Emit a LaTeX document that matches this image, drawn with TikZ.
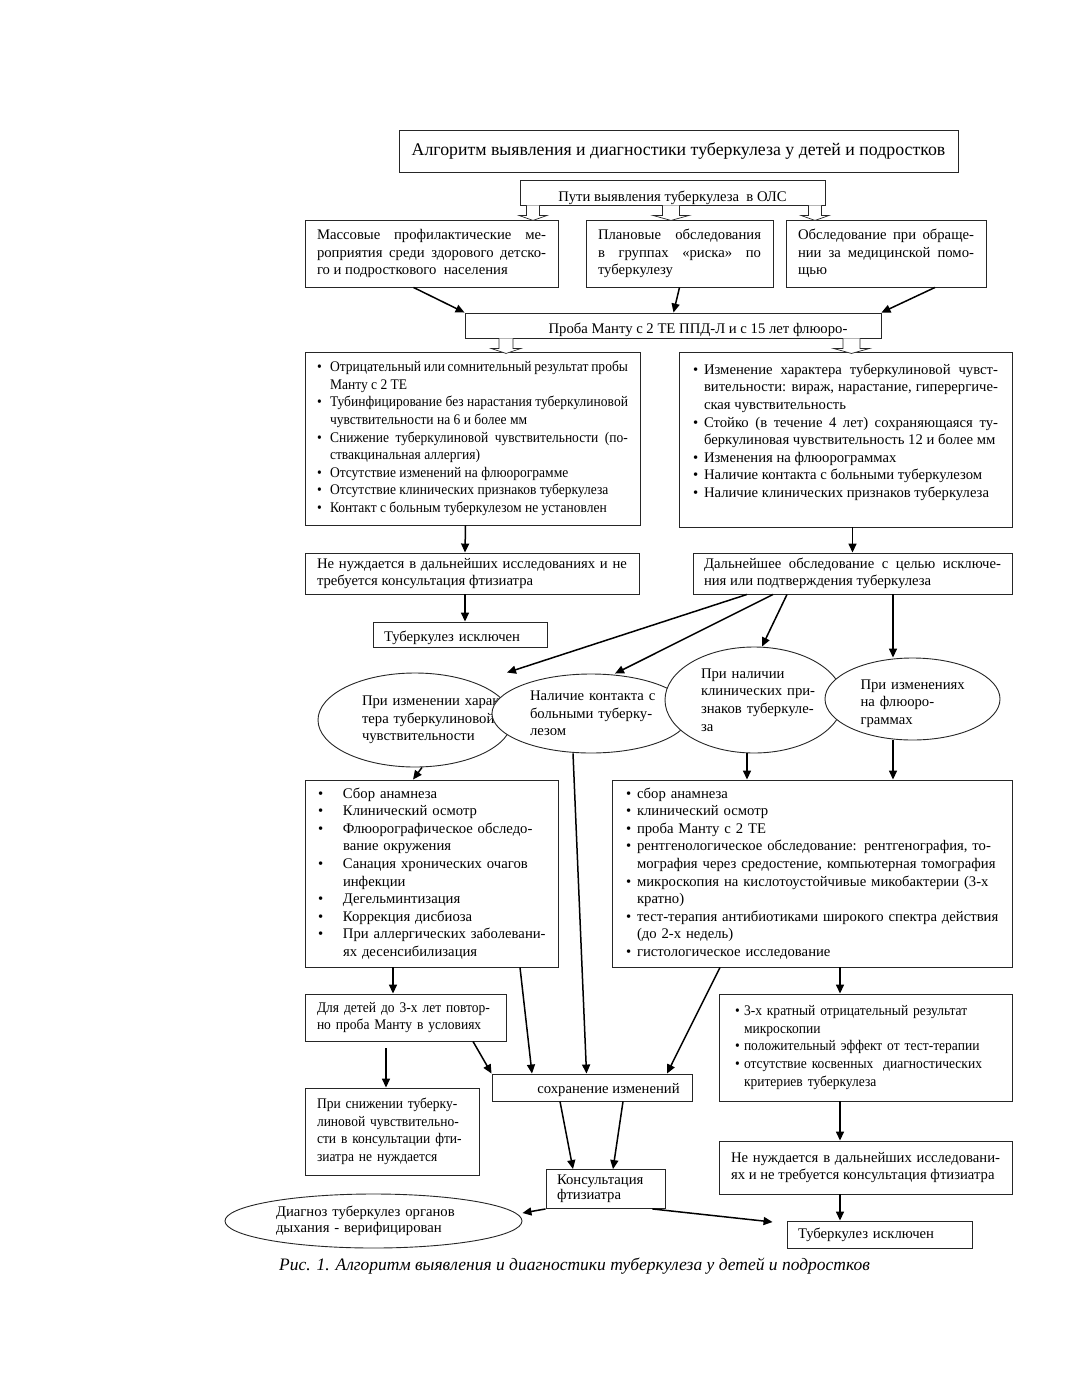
\documentclass[tikz,border=0pt]{standalone}
\usepackage{fontspec}
\setmainfont{Liberation Serif}
\newfontfamily\narrowfont{Liberation Serif}[FakeStretch=0.92]
\usetikzlibrary{positioning,arrows.meta,shapes.geometric}

\newcommand\bodysize{\fontsize{14.7}{17.6}\selectfont}
\newlength\bulletgap
\newcommand\point[1]{\noindent\hangindent=\bulletgap\hangafter=1\makebox[\bulletgap][l]{\textbullet}#1\par}

\tikzset{
  box/.style={draw=black!85, line width=0.9pt, fill=white, inner xsep=12pt, inner ysep=2pt, align=justify, font=\bodysize},
  narrow/.style={font=\narrowfont\bodysize},
  oval/.style={ellipse, draw=black!85, line width=0.9pt, fill=white, inner sep=0pt, align=left, font=\bodysize},
  arr/.style={-{Triangle[length=9pt,width=8pt]}, line width=1.5pt},
  gap/.code={\setlength\bulletgap{#1}},
  pics/hollow/.style={code={
    \draw[draw=black!85, line width=0.7pt, fill=white] (-#1,0) -- (-#1,10) -- (-2*#1-1,10) -- (0,15) -- (2*#1+1,10) -- (#1,10) -- (#1,0);
  }},
  pics/hollow/.default=6.5
}

\begin{document}
\begin{tikzpicture}[x=1pt,y=-1pt]
\path[fill=white] (0,0) rectangle (1071,1386);
\useasboundingbox (0,0) rectangle (1071,1386);

% top part
\node[box, align=center, font=\fontsize{17.8}{21}\selectfont, minimum width=559pt, minimum height=42pt] (title) at (678.5,151) {Алгоритм выявления и диагностики туберкулеза у детей и подростков};
\node[box, align=center, text height=17pt, text depth=0pt, minimum width=305pt, minimum height=25pt] (ways) at (672.5,192.5) {Пути выявления туберкулеза\ \ в ОЛС};
\node[box, minimum width=253pt, minimum height=67pt, text width=229pt] (mass) at (431.5,253.5) {Массовые профилактические ме-\linebreak роприятия среди здорового детско-\linebreak го и подросткового\ \ населения};
\node[box, minimum width=187pt, minimum height=67pt, text width=163pt] (plan) at (679.5,253.5) {Плановые обследования\linebreak в группах «риска» по\linebreak туберкулезу};
\node[box, minimum width=200pt, minimum height=67pt, text width=176pt] (visit) at (886,253.5) {Обследование при обраще-\linebreak нии за медицинской помо-\linebreak щью};
\pic at ([xshift=-139.5pt]ways.south) {hollow};
\pic at ([xshift=-1.5pt]ways.south) {hollow=8.5};
\pic at ([xshift=142.5pt]ways.south) {hollow};

\node[box, align=center, text height=15pt, text depth=0pt, minimum width=416pt, minimum height=25pt] (probe) at (673,325.5) {\hspace*{50pt}Проба Манту с 2 ТЕ ППД-Л и с 15 лет флюоро-};

\node[box, narrow, gap=13pt, minimum width=335pt, minimum height=173pt, text width=311pt] (neg) at (472.5,438.5) {\point{Отрицательный или сомнительный результат пробы\linebreak Манту с 2 ТЕ}\point{Тубинфицирование без нарастания туберкулиновой\linebreak чувствительности на 6 и более мм}\point{Снижение туберкулиновой чувствительности (по-\linebreak ствакцинальная аллергия)}\point{Отсутствие изменений на флюорограмме}\point{Отсутствие клинических признаков туберкулеза}\point{Контакт с больным туберкулезом не установлен}};
\node[box, gap=11pt, inner xsep=14pt, minimum width=333pt, minimum height=175pt, text width=305pt] (pos) at (845.5,439.5) {\point{Изменение характера туберкулиновой чувст-\linebreak вительности: вираж, нарастание, гиперергиче-\linebreak ская чувствительность}\point{Стойко (в течение 4 лет) сохраняющаяся ту-\linebreak беркулиновая чувствительность 12 и более мм}\point{Изменения на флюорограммах}\point{Наличие контакта с больными туберкулезом}\point{Наличие клинических признаков туберкулеза}\mbox{}};
\pic at ([xshift=-167pt]probe.south) {hollow=7};
\pic at ([xshift=178.5pt]probe.south) {hollow=8.5};

\node[box, minimum width=334pt, minimum height=41pt, text width=310pt] (noneed) at (472,573.5) {Не нуждается в дальнейших исследованиях и не\linebreak требуется консультация фтизиатра};
\node[box, inner xsep=11pt, minimum width=319pt, minimum height=41pt, text width=297pt] (further) at (852.5,573.5) {Дальнейшее обследование с целью исключе-\linebreak ния или подтверждения туберкулеза};
\node[box, align=left, inner xsep=11pt, text height=13pt, text depth=0pt, minimum width=174pt, minimum height=25pt, text width=152pt] (exclA) at (460,634.5) {Туберкулез исключен};

% ovals
\node[oval, minimum width=194pt, minimum height=94pt, text width=106pt] (hyper) at (415,720) {\mbox{При изменении харак-}\\\mbox{тера туберкулиновой}\\\mbox{чувствительности}};
\node[oval, minimum width=198pt, minimum height=79pt, text width=122pt] (contact) at (591,713.5) {\mbox{Наличие контакта с}\\\mbox{больными туберку-}\\\mbox{лезом}};
\node[oval, minimum width=178pt, minimum height=106pt, text width=106pt] (clinic) at (754,700) {\mbox{При наличии}\\\mbox{клинических при-}\\\mbox{знаков туберкуле-}\\\mbox{за}};
\node[oval, minimum width=175pt, minimum height=82pt, text width=104pt] (xray) at (912.5,699) {\mbox{\rule{0pt}{19pt}При изменениях}\\\mbox{на флюоро-}\\\mbox{граммах}};

% bottom part
\node[box, align=left, gap=25pt, inner xsep=13pt, minimum width=253pt, minimum height=187pt, text width=227pt] (actions) at (431.5,873.5) {\point{Сбор анамнеза}\point{Клинический осмотр}\point{\mbox{Флюорографическое обследо-}\newline вание окружения}\point{\mbox{Санация хронических очагов}\newline инфекции}\point{Дегельминтизация}\point{Коррекция дисбиоза}\point{\mbox{При аллергических заболевани-}\newline ях десенсибилизация}};
\node[box, align=left, gap=11pt, inner xsep=14pt, minimum width=400pt, minimum height=187pt, text width=372pt] (exam) at (812,873.5) {\point{сбор анамнеза}\point{клинический осмотр}\point{проба Манту с 2 ТЕ}\point{\mbox{рентгенологическое обследование: рентгенография, то-}\newline \mbox{мография через средостение, компьютерная томография}}\point{\mbox{микроскопия на кислотоустойчивые микобактерии (3-х}\newline кратно)}\point{\mbox{тест-терапия антибиотиками широкого спектра действия}\newline (до 2-х недель)}\point{гистологическое исследование}};
\node[box, narrow, align=left, minimum width=201pt, minimum height=47pt, text width=177pt] (young) at (405.5,1017.5) {\mbox{Для детей до 3-х лет повтор-}\\\mbox{но проба Манту в условиях}};
\node[box, align=center, text height=11pt, text depth=0pt, minimum width=200pt, minimum height=27pt] (keep) at (592,1087.5) {\hspace*{33pt}сохранение изменений};
\node[box, narrow, align=left, minimum width=174pt, minimum height=87pt, text width=150pt] (lower) at (392,1131.5) {\mbox{При снижении туберку-}\\\mbox{линовой чувствительно-}\\\mbox{сти в консультации фти-}\\\mbox{зиатра не нуждается}};
\node[box, narrow, align=left, gap=9pt, inner xsep=16pt, minimum width=293pt, minimum height=107pt, text width=261pt] (micro) at (865.5,1047.5) {\point{\mbox{3-х кратный отрицательный результат}\newline микроскопии}\point{\mbox{положительный эффект от тест-терапии}}\point{\mbox{отсутствие косвенных\ \ диагностических}\newline критериев туберкулеза}};
\node[box, minimum width=293pt, minimum height=53pt, text width=269pt] (skip) at (865.5,1167.5) {Не нуждается в дальнейших исследовани-\linebreak ях и не требуется консультация фтизиатра};
\node[box, align=left, inner xsep=11pt, minimum width=119pt, minimum height=39pt, text width=97pt, font=\fontsize{14.7}{15}\selectfont] (consult) at (605.5,1189) {Консультация\\фтизиатра};
\node[oval, minimum width=297pt, minimum height=54pt, text width=195pt, font=\fontsize{14.7}{15.5}\selectfont] (diag) at (373.5,1221) {\mbox{Диагноз туберкулез органов}\\\mbox{дыхания - верифицирован}};
\node[box, align=left, inner xsep=11pt, minimum width=185pt, minimum height=27pt, text width=163pt] (exclB) at (879.5,1234.5) {Туберкулез исключен};
\node[anchor=west, inner sep=0pt, font=\itshape\fontsize{17.5}{20}\selectfont] (caption) at (279,1266) {Рис. 1. Алгоритм выявления и диагностики туберкулеза у детей и подростков};

% arrows
\draw[arr] ([xshift=-18pt]mass.south) -- (probe.north west);
\draw[arr] (plan.south) -- ([xshift=0.5pt]probe.north);
\draw[arr] ([xshift=49pt]visit.south) -- (probe.north east);
\draw[arr] ([xshift=-7pt]neg.south) -- ([xshift=-7pt]noneed.north);
\draw[arr] ([xshift=7pt]pos.south) -- (further.north);
\draw[arr] ([xshift=-7pt]noneed.south) -- ([xshift=5pt]exclA.north);
\draw[arr] ([xshift=-105.5pt]further.south) -- ([xshift=92pt]hyper.north);
\draw[arr] ([xshift=-79.5pt]further.south) -- ([xshift=24pt]contact.north);
\draw[arr] ([xshift=-65.5pt]further.south) -- ([xshift=8pt]clinic.north);
\draw[arr] ([xshift=40.5pt]further.south) -- ([xshift=-19.5pt]xray.north);
\draw[arr] ([xshift=7pt]hyper.south) -- ([xshift=-18.5pt]actions.north);
\draw[arr] ([xshift=-7pt]clinic.south) -- ([xshift=-65pt]exam.north);
\draw[arr] ([xshift=-19.5pt]xray.south) -- ([xshift=81pt]exam.north);
\draw[arr] ([xshift=-18pt]contact.south) -- ([xshift=-5.5pt]keep.north);
\draw[arr] ([xshift=-38.5pt]actions.south) -- ([xshift=-12.5pt]young.north);
\draw[arr] ([xshift=88.5pt]actions.south) -- ([xshift=-60pt]keep.north);
\draw[arr] ([xshift=67.5pt]young.south) -- (keep.north west);
\draw[arr] ([xshift=-92pt]exam.south) -- ([xshift=75pt]keep.north);
\draw[arr] ([xshift=28pt]exam.south) -- ([xshift=-25.5pt]micro.north);
\draw[arr, shorten <=7pt] ([xshift=-19.5pt]young.south) -- ([xshift=-6pt]lower.north);
\draw[arr] ([xshift=-32pt]keep.south) -- ([xshift=-32.5pt]consult.north);
\draw[arr] ([xshift=31pt]keep.south) -- ([xshift=7.5pt]consult.north);
\draw[arr] ([xshift=-25.5pt]micro.south) -- ([xshift=-25.5pt]skip.north);
\draw[arr] ([xshift=-25.5pt]skip.south) -- ([xshift=-39.5pt]exclB.north);
\draw[arr] (consult.south west) -- ([yshift=8pt]diag.east);
\draw[arr] ([xshift=-13pt]consult.south east) -- ([xshift=-14pt,yshift=12.5pt]exclB.west);
\end{tikzpicture}
\end{document}
